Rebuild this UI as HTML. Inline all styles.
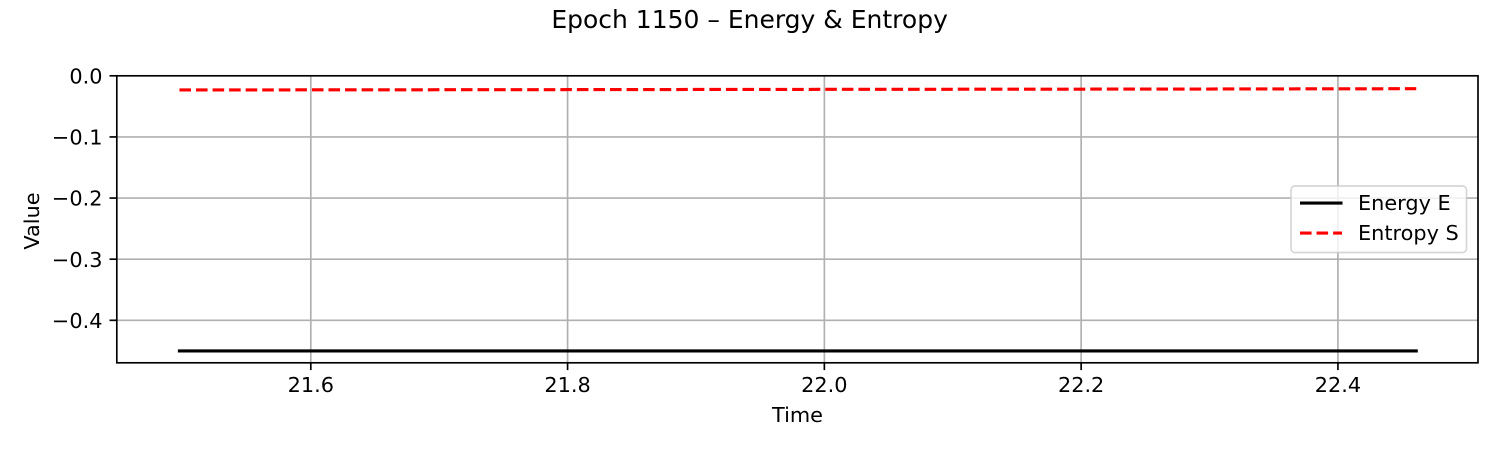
<!DOCTYPE html>
<html lang="en">
<head>
<meta charset="utf-8">
<title>Epoch 1150 – Energy &amp; Entropy</title>
<style>
html,body{margin:0;padding:0;background:#fff;}
svg{display:block;}
text{font-family:"DejaVu Sans","Liberation Sans",sans-serif;fill:#000;}
</style>
</head>
<body>
<svg id="chart" xmlns="http://www.w3.org/2000/svg" width="1500" height="450" viewBox="0 0 1500 450">
  <rect x="0" y="0" width="1500" height="450" fill="#ffffff"/>
  <text x="749.6" y="28" font-size="25" text-anchor="middle">Epoch 1150 – Energy &amp; Entropy</text>
  <g id="grid"></g>
  <g id="series"></g>
  <g id="axes"></g>
  <g id="ticks"></g>
  <text x="797.5" y="422" font-size="20.83" text-anchor="middle">Time</text>
  <text transform="translate(39,221) rotate(-90)" font-size="20.83" text-anchor="middle">Value</text>
  <g>
    <rect x="1291" y="186" width="175.5" height="66.5" rx="4" ry="4" fill="#ffffff" fill-opacity="0.8" stroke="#cccccc" stroke-opacity="0.8" stroke-width="1.67"/>
    <line x1="1300" y1="203" x2="1342.5" y2="203" stroke="#000000" stroke-width="3.125"/>
    <text x="1358" y="210" font-size="20.83">Energy E</text>
    <line x1="1300" y1="233" x2="1342" y2="233" stroke="#ff0000" stroke-width="3.125" stroke-dasharray="11.56 5"/>
    <text x="1358" y="240" font-size="20.83">Entropy S</text>
  </g>
</svg>
<script>
const timeValues = [21.4977, 21.6, 21.7, 21.8, 21.9, 22.0, 22.1, 22.2, 22.3, 22.4, 22.461];
const energyValues = [-0.45, -0.45, -0.45, -0.45, -0.45, -0.45, -0.45, -0.45, -0.45, -0.45, -0.45];
const entropyValues = [-0.0232, -0.0230, -0.0228, -0.0226, -0.0224, -0.0222, -0.0220, -0.0218, -0.0216, -0.0213, -0.0211];
const xTickValues = [21.6, 21.8, 22.0, 22.2, 22.4];
const xTickLabels = ['21.6', '21.8', '22.0', '22.2', '22.4'];
const yTickValues = [0, -0.1, -0.2, -0.3, -0.4];
const yTickLabels = ['0.0', '\u22120.1', '\u22120.2', '\u22120.3', '\u22120.4'];

const SVG_NS = 'http://www.w3.org/2000/svg';
const plotLeft = 116.8, plotRight = 1478, plotTop = 75.8, plotBottom = 362.8;
const xDomainMin = 21.4489, xDomainMax = 22.5091;
const yDomainMin = -0.4695, yDomainMax = 0;

function xScale(v) {
  return plotLeft + (v - xDomainMin) / (xDomainMax - xDomainMin) * (plotRight - plotLeft);
}
function yScale(v) {
  return plotTop + (yDomainMax - v) / (yDomainMax - yDomainMin) * (plotBottom - plotTop);
}
function makeLine(x1, y1, x2, y2, color, width) {
  const el = document.createElementNS(SVG_NS, 'line');
  el.setAttribute('x1', x1);
  el.setAttribute('y1', y1);
  el.setAttribute('x2', x2);
  el.setAttribute('y2', y2);
  el.setAttribute('stroke', color);
  el.setAttribute('stroke-width', width);
  return el;
}
function makeText(x, y, anchor, content) {
  const el = document.createElementNS(SVG_NS, 'text');
  el.setAttribute('x', x);
  el.setAttribute('y', y);
  el.setAttribute('text-anchor', anchor);
  el.setAttribute('font-size', '20.83');
  el.textContent = content;
  return el;
}
function makeSeries(values, color) {
  const el = document.createElementNS(SVG_NS, 'polyline');
  const pts = values.map(function (v, i) {
    return xScale(timeValues[i]).toFixed(2) + ',' + yScale(v).toFixed(2);
  });
  el.setAttribute('points', pts.join(' '));
  el.setAttribute('fill', 'none');
  el.setAttribute('stroke', color);
  el.setAttribute('stroke-width', '3.125');
  return el;
}

const gridGroup = document.getElementById('grid');
const seriesGroup = document.getElementById('series');
const axesGroup = document.getElementById('axes');
const ticksGroup = document.getElementById('ticks');

xTickValues.forEach(function (v, i) {
  const px = xScale(v);
  const gridLine = makeLine(px, plotTop, px, plotBottom, '#b0b0b0', 1.67);
  
  
  gridGroup.appendChild(gridLine);
  const tick = makeLine(px, plotBottom, px, plotBottom + 7.3, '#000000', 1.67);
  
  
  ticksGroup.appendChild(tick);
  const label = makeText(px, 392, 'middle', xTickLabels[i]);
  
  
  ticksGroup.appendChild(label);
});

yTickValues.forEach(function (v, i) {
  const py = yScale(v);
  if (v !== 0) {
    const gridLine = makeLine(plotLeft, py, plotRight, py, '#b0b0b0', 1.67);
    
    
    gridGroup.appendChild(gridLine);
  }
  const tick = makeLine(plotLeft - 7.3, py, plotLeft, py, '#000000', 1.67);
  
  
  ticksGroup.appendChild(tick);
  const label = makeText(102.5, py + 7.6, 'end', yTickLabels[i]);
  
  
  ticksGroup.appendChild(label);
});

const energyLine = makeSeries(energyValues, '#000000');
energyLine.setAttribute('stroke-linecap', 'square');


seriesGroup.appendChild(energyLine);

const entropyLine = makeSeries(entropyValues, '#ff0000');
entropyLine.setAttribute('stroke-dasharray', '11.56 5');


seriesGroup.appendChild(entropyLine);

const frame = document.createElementNS(SVG_NS, 'rect');
frame.setAttribute('x', plotLeft);
frame.setAttribute('y', plotTop);
frame.setAttribute('width', plotRight - plotLeft);
frame.setAttribute('height', plotBottom - plotTop);
frame.setAttribute('fill', 'none');
frame.setAttribute('stroke', '#000000');
frame.setAttribute('stroke-width', '1.67');


axesGroup.appendChild(frame);
</script>
</body>
</html>
